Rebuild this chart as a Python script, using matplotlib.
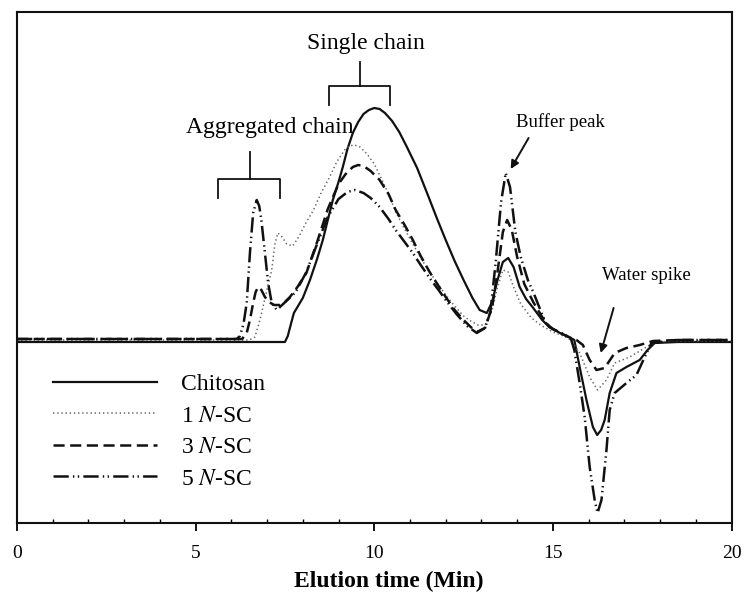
import matplotlib
matplotlib.use("Agg")
import matplotlib.pyplot as plt
from matplotlib.ticker import MultipleLocator

plt.rcParams['font.family'] = ['Liberation Serif', 'DejaVu Serif']
plt.rcParams['mathtext.fontset'] = 'stix'
plt.rcParams['lines.scale_dashes'] = False

# ---------------- data (elution time in min, detector response in arbitrary units) -------------
chitosan_t = [0, 7.5, 7.58, 7.66, 7.75, 7.85, 8.0, 8.2, 8.4, 8.56, 8.7, 8.84, 9.0, 9.12, 9.25, 9.4,
              9.55, 9.7, 9.85, 10.0, 10.15, 10.3, 10.5, 10.7, 10.9, 11.2, 11.5, 11.75, 12.0, 12.25,
              12.5, 12.75, 12.95, 13.15, 13.3, 13.45, 13.6, 13.75, 13.9, 14.07, 14.25, 14.43, 14.7,
              14.9, 15.2, 15.45, 15.6, 15.75, 15.94, 16.12, 16.24, 16.35, 16.45, 16.59, 16.78, 17.06,
              17.43, 17.65, 17.85, 18.5, 20]
chitosan_y = [0, 0, 6, 17, 29, 35, 44, 62, 83, 102, 122, 142, 160, 175, 193, 209,
              220, 228, 232, 234, 233, 229, 221, 210, 196, 174, 147, 124, 102, 81,
              62, 44, 32, 29, 40, 62, 80, 84, 75, 55, 43, 35, 22,
              15, 9, 5, 2, -25, -58, -85, -93, -88, -78, -51, -31, -25,
              -18, -8, -1, 0, 0]

nsc1_t = [0, 6.5, 6.66, 6.8, 6.95, 7.13, 7.22, 7.3, 7.4, 7.55, 7.72, 7.9, 8.1, 8.3, 8.5, 8.75,
          8.95, 9.17, 9.3, 9.45, 9.6, 9.8, 10.0, 10.15, 10.4, 10.6, 10.85, 11.08, 11.3, 11.55,
          11.8, 12.0, 12.25, 12.5, 12.7, 12.9, 13.1, 13.3, 13.45, 13.6, 13.75, 13.9, 14.1, 14.4,
          14.7, 15.0, 15.3, 15.5, 15.75, 16.03, 16.25, 16.5, 16.73, 17.15, 17.62, 17.85, 18.5, 20]
nsc1_y = [2, 2, 5, 22, 45, 72, 98, 109, 106, 98, 96, 106, 120, 132, 148, 165,
          180, 192, 196, 197, 195, 188, 178, 167, 148, 130, 113, 98, 84, 70,
          57, 47, 36, 26, 21, 17, 17, 32, 55, 72, 70, 55, 38, 24,
          16, 10, 6, 2, -11, -35, -48, -38, -21, -15, -5, 0, 1, 1]

nsc3_t = [0, 6.3, 6.43, 6.52, 6.61, 6.68, 6.75, 6.84, 6.94, 7.05, 7.2, 7.36, 7.5, 7.64, 7.85,
          8.1, 8.4, 8.7, 9.0, 9.2, 9.4, 9.55, 9.7, 9.9, 10.15, 10.4, 10.6, 10.85, 11.08, 11.3,
          11.55, 11.8, 12.0, 12.25, 12.5, 12.7, 12.87, 13.1, 13.3, 13.45, 13.6, 13.72, 13.85,
          14.0, 14.2, 14.45, 14.7, 14.9, 15.2, 15.5, 15.66, 15.84, 16.03, 16.22, 16.45, 16.73,
          17.06, 17.43, 17.8, 18.5, 20]
nsc3_y = [3, 3, 9, 22, 39, 50, 55, 52, 45, 40, 37, 37, 40, 45, 55,
          69, 100, 133, 158, 168, 175, 177, 176, 171, 162, 148, 132, 117, 102, 86,
          70, 56, 45, 32, 22, 15, 10, 14, 35, 70, 110, 122, 112,
          85, 58, 40, 25, 15, 9, 4, 2, -3, -18, -28, -26, -11,
          -6, -3, 1, 2, 2]

nsc5_t = [0, 6.15, 6.24, 6.34, 6.43, 6.52, 6.61, 6.71, 6.78, 6.84, 6.94, 7.03, 7.13, 7.27, 7.45,
          7.6, 7.8, 8.1, 8.4, 8.7, 9.0, 9.25, 9.45, 9.7, 9.9, 10.15, 10.4, 10.6, 10.85, 11.08,
          11.3, 11.55, 11.8, 12.0, 12.3, 12.6, 12.87, 13.1, 13.25, 13.4, 13.55, 13.68, 13.8,
          13.95, 14.1, 14.3, 14.45, 14.65, 14.8, 15.0, 15.3, 15.5, 15.6, 15.75, 15.89, 16.03,
          16.17, 16.25, 16.36, 16.5, 16.59, 16.73, 17.06, 17.34, 17.57, 17.76, 18.5, 20]
nsc5_y = [3, 3, 6, 18, 39, 89, 129, 142, 136, 122, 89, 59, 39, 32, 38,
          43, 50, 70, 98, 125, 143, 150, 152, 149, 144, 135, 123, 112, 100, 89,
          77, 64, 52, 42, 28, 16, 9, 14, 30, 80, 140, 169, 155,
          110, 85, 62, 50, 32, 19, 13, 8, 4, -8, -41, -75, -125,
          -158, -171, -158, -108, -68, -51, -41, -33, -15, -1, 2, 2]

labels = ['Chitosan', r'1 $\mathit{N}$-SC', r'3 $\mathit{N}$-SC', r'5 $\mathit{N}$-SC']
x_ticks = [0, 5, 10, 15, 20]
x_label = 'Elution time (Min)'

# ---------------- figure ----------------
fig = plt.figure(figsize=(7.46, 5.97), dpi=100)
ax = fig.add_axes([17 / 746, 74 / 597, 714.5 / 746, 511 / 597])

ax.plot(chitosan_t, chitosan_y, color='#111111', lw=1.6, ls='-', label=labels[0])
ax.plot(nsc1_t, nsc1_y, color='#666666', lw=1.1, ls=(0, (1, 2)), label=labels[1])
ax.plot(nsc3_t, nsc3_y, color='#111111', lw=1.8, ls=(0, (8, 4)), label=labels[2])
ax.plot(nsc5_t, nsc5_y, color='#111111', lw=1.8, ls=(0, (11, 3, 1, 2.5, 1, 3)), label=labels[3])

ax.set_xlim(0, 20)
ax.set_ylim(-181, 330)
ax.set_yticks([])
ax.set_xticks(x_ticks)
ax.set_xticklabels([str(v) for v in x_ticks])
ax.xaxis.set_minor_locator(MultipleLocator(1))
ax.tick_params(axis='x', which='major', direction='out', length=6, width=1.3,
               labelsize=14, pad=10)
ax.tick_params(axis='x', which='minor', direction='in', length=3, width=1.0)
for s in ax.spines.values():
    s.set_linewidth(1.5)
    s.set_color('#111111')

ax.set_xlabel(x_label, fontsize=17, fontweight='bold')
ax.xaxis.set_label_coords(0.52, -0.093)

leg = ax.legend(loc='upper left', bbox_to_anchor=(0.05, 0.292), frameon=False,
                fontsize=17, handlelength=4.4, handletextpad=1.05, labelspacing=0.42,
                borderpad=0, borderaxespad=0)

# ---------------- annotations ----------------
bk = dict(color='#111111', lw=1.3)
# Single chain bracket
ax.text(9.76, 298, 'Single chain', fontsize=17, ha='center', va='center')
ax.plot([9.59, 9.59], [280, 256], **bk)
ax.plot([8.73, 8.73, 10.43, 10.43], [237, 256, 256, 237], **bk)
# Aggregated chain bracket
ax.text(7.07, 215, 'Aggregated chain', fontsize=17, ha='center', va='center')
ax.plot([6.52, 6.52], [190, 163], **bk)
ax.plot([5.62, 5.62, 7.36, 7.36], [144, 163, 163, 144], **bk)
# Buffer peak
ax.text(15.22, 220, 'Buffer peak', fontsize=13.5, ha='center', va='center')
ax.annotate('', xy=(13.82, 173), xytext=(14.32, 204),
            arrowprops=dict(arrowstyle='-|>', color='#111111', lw=1.4,
                            mutation_scale=12, shrinkA=0, shrinkB=0))
# Water spike
ax.text(17.62, 67, 'Water spike', fontsize=13.5, ha='center', va='center')
ax.annotate('', xy=(16.34, -11), xytext=(16.7, 34),
            arrowprops=dict(arrowstyle='-|>', color='#111111', lw=1.4,
                            mutation_scale=12, shrinkA=0, shrinkB=0))

fig.savefig('out.png', dpi=100)
